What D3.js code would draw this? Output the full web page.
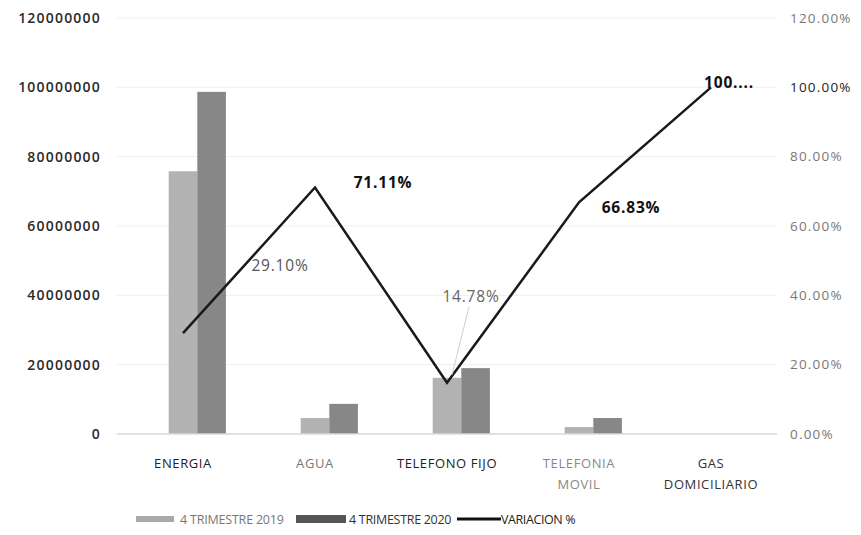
<!DOCTYPE html>
<html>
<head>
<meta charset="utf-8">
<script src="https://cdn.jsdelivr.net/npm/d3@7"></script>
<style>
  body { margin: 0; background: #fff; }
  svg text { font-family: "Open Sans", "Liberation Sans", sans-serif; }
</style>
</head>
<body>
<div id="chart"></div>
<script>
// data
const categories = ['ENERGIA', 'AGUA', 'TELEFONO FIJO', 'TELEFONIA MOVIL', 'GAS DOMICILIARIO'];
const trim2019 = [75800000, 4600000, 16200000, 2000000, 0];
const trim2020 = [98700000, 8700000, 19000000, 4600000, 0];
const variacion = [0.2910, 0.7111, 0.1478, 0.6683, 1.0000];
const variacionLabels = ['29.10%', '71.11%', '14.78%', '66.83%', '100....'];
const leftTicks = [0, 20000000, 40000000, 60000000, 80000000, 100000000, 120000000];
const rightTicks = [0, 0.2, 0.4, 0.6, 0.8, 1.0, 1.2];

const width = 861, height = 535;
const margin = {top: 18, left: 117, right: 84, bottom: 101};

const svg = d3.select('#chart').append('svg')
  .attr('width', width)
  .attr('height', height);

const x0 = d3.scaleBand()
  .domain(categories)
  .range([margin.left, width - margin.right])
  .paddingInner(0.35)
  .paddingOuter(0.175);

// first slot stays empty so the 2019 bar sits on the category centre
const x1 = d3.scaleBand()
  .domain(['pad', '2019', '2020'])
  .range([0, x0.bandwidth()]);

const yL = d3.scaleLinear().domain([0, 120000000]).range([height - margin.bottom, margin.top]);
const yR = d3.scaleLinear().domain([0, 1.2]).range([height - margin.bottom, margin.top]);

// gridlines
svg.append('g').selectAll('line')
  .data(leftTicks.slice(1))
  .enter().append('line')
  .attr('x1', margin.left)
  .attr('x2', width - margin.right)
  .attr('y1', d => yL(d))
  .attr('y2', d => yL(d))
  .attr('stroke', '#eeeeee')
  .attr('stroke-width', 1);

// left axis
const leftAxis = svg.append('g')
  .attr('transform', 'translate(101,0)')
  .call(d3.axisLeft(yL).tickValues(leftTicks).tickFormat(d3.format('d')).tickSize(0));
leftAxis.select('.domain').remove();
leftAxis.selectAll('text')
  .attr('x', 0)
  .attr('font-size', 14)
  .attr('font-weight', 600)
  .attr('letter-spacing', 1.2)
  .attr('fill', '#2a2a2a');

// right axis
const rightAxis = svg.append('g')
  .attr('transform', 'translate(790,0)')
  .call(d3.axisRight(yR).tickValues(rightTicks).tickFormat(d3.format('.2%')).tickSize(0));
rightAxis.select('.domain').remove();
rightAxis.selectAll('text')
  .attr('x', 0)
  .attr('font-size', 13.5)
  .attr('letter-spacing', 1.2)
  .attr('fill', d => d === 1.0 ? '#222' : '#777');

// bars
const groups = svg.append('g').selectAll('g')
  .data(categories)
  .enter().append('g')
  .attr('transform', d => 'translate(' + x0(d) + ',0)');

groups.append('rect')
  .attr('x', x1('2019'))
  .attr('width', x1.bandwidth())
  .attr('y', (d, i) => yL(trim2019[i]))
  .attr('height', (d, i) => yL(0) - yL(trim2019[i]))
  .attr('fill', '#b3b3b3');

groups.append('rect')
  .attr('x', x1('2020'))
  .attr('width', x1.bandwidth())
  .attr('y', (d, i) => yL(trim2020[i]))
  .attr('height', (d, i) => yL(0) - yL(trim2020[i]))
  .attr('fill', '#878787');

// baseline
svg.append('line')
  .attr('x1', margin.left)
  .attr('x2', width - margin.right)
  .attr('y1', yL(0))
  .attr('y2', yL(0))
  .attr('stroke', '#d9d9d9')
  .attr('stroke-width', 1.5);

// category labels
const catLines = {
  'TELEFONIA MOVIL': ['TELEFONIA', 'MOVIL'],
  'GAS DOMICILIARIO': ['GAS', 'DOMICILIARIO']
};
const catColors = ['#222', '#777', '#222', '#888', '#333'];
const catLabels = svg.append('g').selectAll('text')
  .data(categories)
  .enter().append('text')
  .attr('text-anchor', 'middle')
  .attr('font-size', 13)
  .attr('letter-spacing', 0.6)
  .attr('fill', (d, i) => catColors[i])
  .attr('x', d => x0(d) + x0.bandwidth() / 2)
  .attr('y', 468);
catLabels.each(function(d) {
  const lines = catLines[d] || [d];
  const t = d3.select(this);
  lines.forEach((l, j) => {
    t.append('tspan')
      .attr('x', x0(d) + x0.bandwidth() / 2)
      .attr('dy', j === 0 ? 0 : 21)
      .text(l);
  });
});

// variation line
const cx = (d, i) => x0(categories[i]) + x0.bandwidth() / 2;
const line = d3.line()
  .x((d, i) => cx(d, i))
  .y(d => yR(d));

svg.append('path')
  .datum(variacion)
  .attr('d', line)
  .attr('fill', 'none')
  .attr('stroke', '#1a1a1a')
  .attr('stroke-width', 2.5)
  .attr('stroke-linejoin', 'miter');

// data labels (moved by hand in the original)
const labelOffsets = [[97, -62], [68, 1], [24, -81], [52, 11], [18, 1]];
const labelColors = ['#555', '#111', '#666', '#111', '#111'];
const labelWeights = ['normal', 'bold', 'normal', 'bold', 'bold'];

// leader line to the 14.78% label
svg.append('line')
  .attr('x1', cx(null, 2) + 22)
  .attr('y1', yR(variacion[2]) - 76)
  .attr('x2', cx(null, 2) + 5)
  .attr('y2', yR(variacion[2]) - 8)
  .attr('stroke', '#d0d0d0')
  .attr('stroke-width', 1);

svg.append('g').selectAll('text')
  .data(variacion)
  .enter().append('text')
  .attr('x', (d, i) => cx(d, i) + labelOffsets[i][0])
  .attr('y', (d, i) => yR(d) + labelOffsets[i][1])
  .attr('text-anchor', 'middle')
  .attr('font-size', 15.5)
  .attr('letter-spacing', 0.8)
  .attr('font-weight', (d, i) => labelWeights[i])
  .attr('fill', (d, i) => labelColors[i])
  .text((d, i) => variacionLabels[i]);

// legend
const legend = svg.append('g').attr('transform', 'translate(0,519)');
legend.append('rect').attr('x', 136).attr('y', -3).attr('width', 38).attr('height', 6).attr('fill', '#a9a9a9');
legend.append('text').attr('x', 180).attr('y', 5).attr('font-size', 12.5).attr('letter-spacing', -0.2).attr('fill', '#777').text('4 TRIMESTRE 2019');
legend.append('rect').attr('x', 296).attr('y', -4).attr('width', 50).attr('height', 8).attr('fill', '#555');
legend.append('text').attr('x', 349).attr('y', 5).attr('font-size', 12.5).attr('letter-spacing', -0.3).attr('fill', '#333').text('4 TRIMESTRE 2020');
legend.append('line').attr('x1', 457).attr('x2', 501).attr('y1', 0).attr('y2', 0).attr('stroke', '#111').attr('stroke-width', 3);
legend.append('text').attr('x', 501).attr('y', 5).attr('font-size', 12.5).attr('letter-spacing', -0.4).attr('fill', '#222').text('VARIACION %');
</script>
</body>
</html>
